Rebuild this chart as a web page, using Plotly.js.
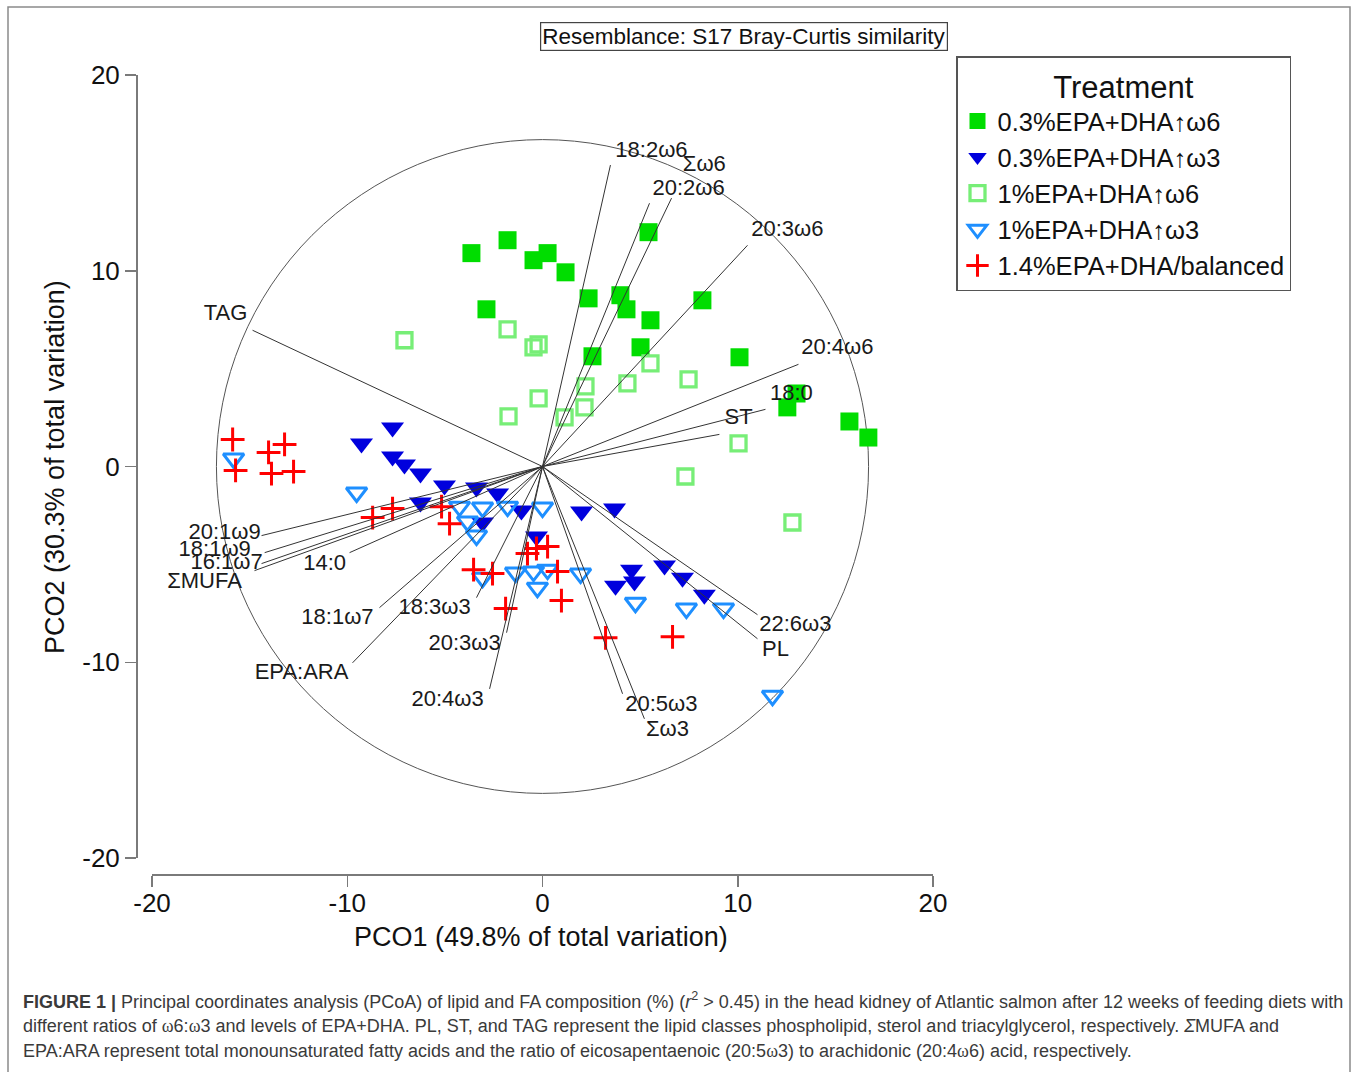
<!DOCTYPE html>
<html>
<head>
<meta charset="utf-8">
<script src="https://cdn.plot.ly/plotly-3.0.1.min.js"></script>
<style>
html,body{margin:0;padding:0;background:#fff;}
#chart{width:1357px;height:1072px;}
</style>
</head>
<body>
<div id="chart"></div>
<script>
// ---------------- DATA ----------------
var seriesNames = ["0.3%EPA+DHA↑ω6", "0.3%EPA+DHA↑ω3", "1%EPA+DHA↑ω6", "1%EPA+DHA↑ω3", "1.4%EPA+DHA/balanced"];

var low6X = [-3.64,-1.79,-0.46,0.26,1.18,-2.87,5.43,2.36,3.99,4.30,5.53,8.19,2.56,5.02,10.09,12.54,13.01,15.72,16.69];
var low6Y = [10.90,11.56,10.54,10.90,9.92,8.03,11.97,8.59,8.75,8.03,7.47,8.49,5.63,6.09,5.58,3.02,3.73,2.30,1.48];

var low3X = [-7.68,-9.27,-7.68,-7.07,-6.25,-5.02,-3.38,-2.30,-6.25,-3.07,-1.08,-0.31,2.00,3.69,4.56,3.74,4.71,6.25,7.17,8.29];
var low3Y = [1.99,1.18,0.51,0.10,-0.36,-0.97,-1.07,-1.38,-1.84,-2.86,-2.25,-3.58,-2.30,-2.15,-5.27,-6.09,-5.88,-5.06,-5.68,-6.55];

var high6X = [-7.07,-1.79,-0.46,-0.20,-1.74,-0.20,2.20,2.15,1.13,4.35,5.53,7.48,10.04,7.32,12.80];
var high6Y = [6.45,7.01,6.09,6.24,2.56,3.48,4.09,3.02,2.51,4.25,5.27,4.45,1.18,-0.51,-2.86];

var high3X = [-15.82,-9.52,-4.25,-3.07,-1.79,0.00,-3.84,-3.38,-3.07,-1.38,-0.46,0.26,-0.26,1.95,4.76,7.37,9.27,11.78];
var high3Y = [0.41,-1.33,-2.05,-2.10,-2.05,-2.10,-2.81,-3.53,-5.68,-5.42,-5.37,-5.27,-6.19,-5.47,-6.96,-7.26,-7.26,-11.71];

var balX = [-15.87,-14.03,-13.21,-15.72,-13.88,-12.75,-8.70,-7.68,-5.17,-4.76,-0.77,-0.31,0.26,-3.53,-2.56,0.77,-1.89,0.97,3.23,6.66];
var balY = [1.38,0.72,1.13,-0.20,-0.36,-0.26,-2.61,-2.15,-2.05,-2.92,-4.45,-4.19,-4.09,-5.27,-5.47,-5.37,-7.26,-6.85,-8.75,-8.70];

// correlation vectors (end points) and their label positions
var vectorNames = ["18:2ω6","Σω6","20:2ω6","20:3ω6","20:4ω6","18:0","ST","TAG","20:1ω9","18:1ω9","16:1ω7","ΣMUFA","14:0","18:1ω7","18:3ω3","EPA:ARA","20:3ω3","20:4ω3","20:5ω3","Σω3","22:6ω3","PL"];
var vectorX = [3.48,6.61,5.48,10.50,13.11,11.42,9.06,-14.85,-14.39,-14.23,-14.39,-14.75,-9.88,-8.35,-3.38,-9.73,-1.84,-2.71,4.10,5.22,11.01,11.01];
var vectorY = [15.40,13.71,13.45,11.30,5.22,2.92,1.64,6.96,-3.53,-4.40,-4.96,-5.32,-4.40,-7.21,-6.70,-10.03,-8.49,-11.36,-11.61,-12.89,-7.57,-8.80];
var labelX = [5.58,8.29,7.48,12.54,15.10,12.75,10.04,-16.23,-16.28,-16.79,-16.18,-17.31,-11.16,-10.50,-5.53,-12.34,-3.99,-4.86,6.09,6.40,12.95,11.93];
var labelY = [16.11,15.40,14.17,12.07,6.04,3.68,2.46,7.77,-3.43,-4.30,-4.96,-5.93,-5.01,-7.77,-7.26,-10.59,-9.10,-11.97,-12.23,-13.50,-8.13,-9.41];

var circleRadius = 16.7;

var tickVals = [-20,-10,0,10,20];
var tickText = ["-20","-10","0","10","20"];

var xTitle = "PCO1 (49.8% of total variation)";
var yTitle = "PCO2 (30.3% of total variation)";
var boxTitle = "Resemblance: S17 Bray-Curtis similarity";
var legendTitle = "Treatment";
var captionLines = [
  "<b>FIGURE 1 |</b> Principal coordinates analysis (PCoA) of lipid and FA composition (%) (<i>r</i><sup>2</sup> > 0.45) in the head kidney of Atlantic salmon after 12 weeks of feeding diets with",
  "different ratios of <span style=\"font-family:'Liberation Serif'\">ω</span>6:<span style=\"font-family:'Liberation Serif'\">ω</span>3 and levels of EPA+DHA. PL, ST, and TAG represent the lipid classes phospholipid, sterol and triacylglycerol, respectively. <i>Σ</i>MUFA and",
  "EPA:ARA represent total monounsaturated fatty acids and the ratio of eicosapentaenoic (20:5<span style=\"font-family:'Liberation Serif'\">ω</span>3) to arachidonic (20:4<span style=\"font-family:'Liberation Serif'\">ω</span>6) acid, respectively."
];

// ---------------- LAYOUT GEOMETRY ----------------
var W = 1357, H = 1072;
var ML = 120, MR = 424, MT = 75, MB = 192;
var PW = W - ML - MR, PH = H - MT - MB;
function px(x){ return (x - ML) / PW; }
function py(y){ return (H - MB - y) / PH; }

var FONT = "Liberation Sans, Arial, sans-serif";

// vector line trace built from arrays
var vx = [], vy = [];
for (var i = 0; i < vectorX.length; i++) { vx.push(0, vectorX[i], null); vy.push(0, vectorY[i], null); }

var traces = [
  {x: low6X, y: low6Y, name: seriesNames[0], type: "scatter", mode: "markers",
   marker: {symbol: "square", size: 18, color: "#00dd00", line: {width: 0}}},
  {x: low3X, y: low3Y, name: seriesNames[1], type: "scatter", mode: "markers",
   marker: {symbol: "triangle-down", size: 20, color: "#0000dd", line: {width: 0}}},
  {x: high6X, y: high6Y, name: seriesNames[2], type: "scatter", mode: "markers",
   marker: {symbol: "square-open", size: 15, color: "#77ee77", line: {width: 3.3, color: "#77ee77"}}},
  {x: high3X, y: high3Y, name: seriesNames[3], type: "scatter", mode: "markers",
   marker: {symbol: "triangle-down-open", size: 18, color: "#1e8fff", line: {width: 3, color: "#1e8fff"}}},
  {x: balX, y: balY, name: seriesNames[4], type: "scatter", mode: "markers",
   marker: {symbol: "cross-thin", size: 17, color: "#ff0000", line: {width: 3, color: "#ff0000"}}},
  {x: vx, y: vy, type: "scatter", mode: "lines", showlegend: false, hoverinfo: "skip",
   line: {color: "#333333", width: 1}},
  {x: labelX, y: labelY, text: vectorNames, type: "scatter", mode: "text", showlegend: false, hoverinfo: "skip",
   textposition: "middle center", textfont: {family: FONT, size: 22, color: "#1a1a1a"}}
];

var annotations = [
  {text: boxTitle, xref: "paper", yref: "paper", x: px(743.5), y: py(36.5), xanchor: "center", yanchor: "middle",
   showarrow: false, font: {family: FONT, size: 22.5, color: "#111"},
   bordercolor: "#444", borderwidth: 1.2, borderpad: 1, bgcolor: "#fff"},
  {text: xTitle, xref: "paper", yref: "paper", x: px(541), y: py(937), xanchor: "center", yanchor: "middle",
   showarrow: false, font: {family: FONT, size: 27, color: "#111"}},
  {text: yTitle, xref: "paper", yref: "paper", x: px(55), y: py(467), xanchor: "center", yanchor: "middle",
   textangle: -90, showarrow: false, font: {family: FONT, size: 27, color: "#111"}}
];
var capY = [1000, 1025.5, 1051];
for (var k = 0; k < captionLines.length; k++) {
  annotations.push({text: captionLines[k], xref: "paper", yref: "paper", x: px(21), y: py(capY[k]),
    xanchor: "left", yanchor: "middle", align: "left", showarrow: false,
    font: {family: FONT, size: 18, color: "#3a3a3a"}});
}

var layout = {
  width: W, height: H,
  margin: {l: ML, r: MR, t: MT, b: MB, pad: 0},
  paper_bgcolor: "#fff", plot_bgcolor: "#fff",
  hovermode: false,
  showlegend: true,
  xaxis: {range: [-20, 20], domain: [32 / PW, 1], anchor: "free", position: 6 / PH,
    showgrid: false, zeroline: false, showline: true, linecolor: "#7a7a7a", linewidth: 1.5,
    ticks: "outside", ticklen: 11, tickwidth: 1.5, tickcolor: "#7a7a7a",
    tickmode: "array", tickvals: tickVals, ticktext: tickText, ticklabelstandoff: -6,
    tickfont: {family: FONT, size: 26, color: "#111"}, automargin: false, fixedrange: true},
  yaxis: {range: [-20, 20], domain: [22 / PH, 1], anchor: "free", position: 16 / PW,
    showgrid: false, zeroline: false, showline: true, linecolor: "#7a7a7a", linewidth: 1.5,
    ticks: "outside", ticklen: 11, tickwidth: 1.5, tickcolor: "#7a7a7a",
    tickmode: "array", tickvals: tickVals, ticktext: tickText,
    tickfont: {family: FONT, size: 26, color: "#111"}, automargin: false, fixedrange: true},
  legend: {x: px(956), y: py(56), xanchor: "left", yanchor: "top",
    bordercolor: "#555", borderwidth: 1.5, bgcolor: "#fff",
    font: {family: FONT, size: 25.5, color: "#111"},
    title: {text: legendTitle, side: "top center", font: {family: FONT, size: 31, color: "#111"}},
    tracegroupgap: 0, itemsizing: "trace"},
  shapes: [
    {type: "circle", xref: "x", yref: "y", x0: -circleRadius, x1: circleRadius, y0: -circleRadius, y1: circleRadius,
     line: {color: "#555", width: 1}, layer: "below"},
    {type: "rect", xref: "paper", yref: "paper", x0: px(8), x1: px(1350), y0: py(1085), y1: py(7),
     line: {color: "#8a8a8a", width: 1.5}, fillcolor: "rgba(0,0,0,0)", layer: "below"}
  ],
  annotations: annotations
};

Plotly.newPlot("chart", traces, layout, {displayModeBar: false, staticPlot: true});
</script>
</body>
</html>
